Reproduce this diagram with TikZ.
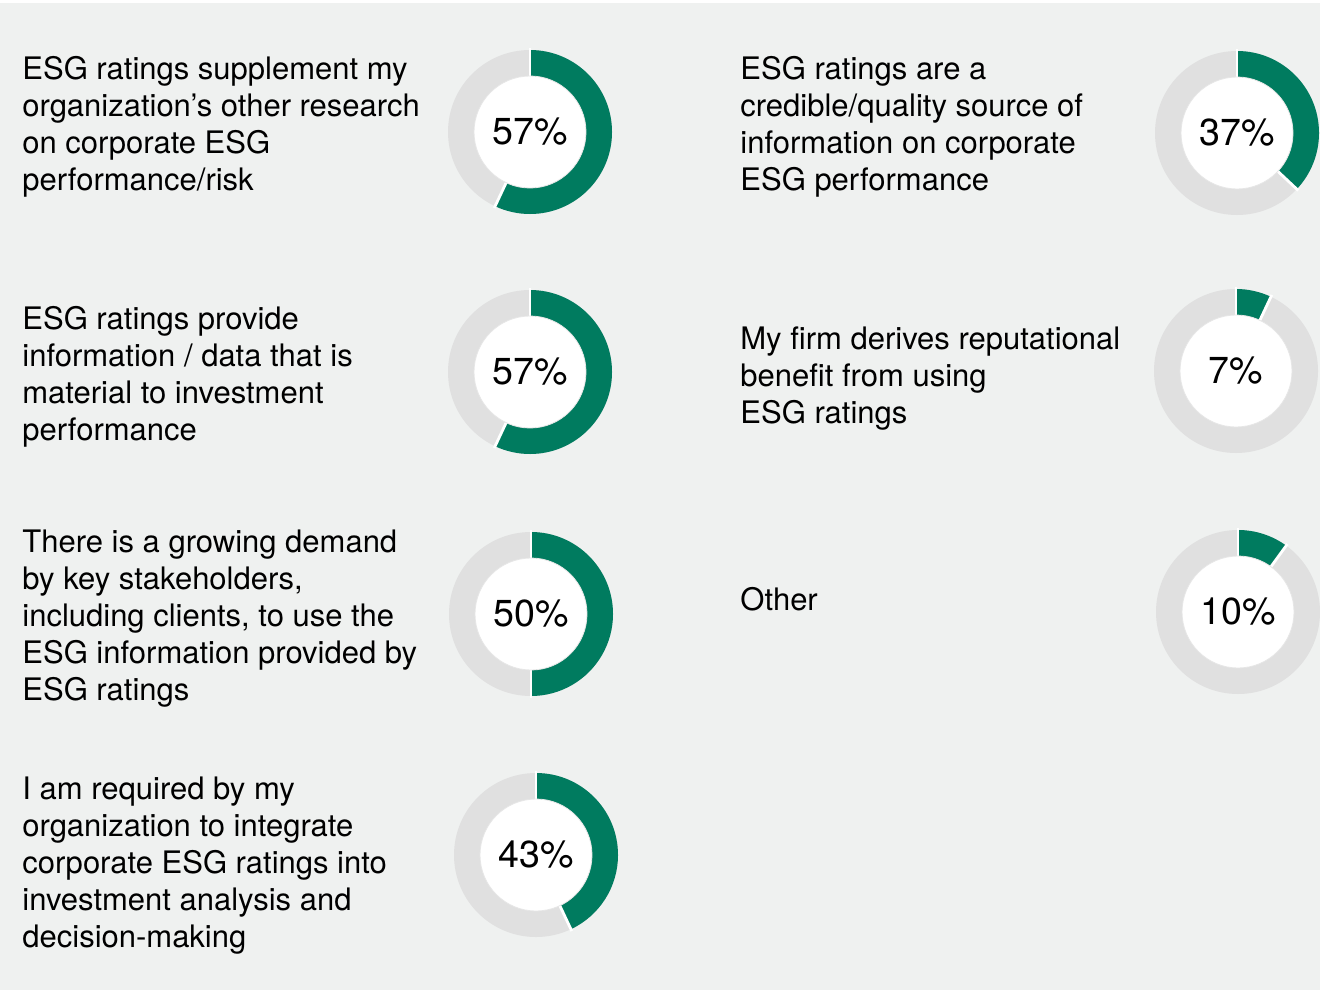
\documentclass[tikz,border=0pt]{standalone}
\usepackage{fontspec}
\setmainfont{TeX Gyre Heros}
\usetikzlibrary{positioning}
\definecolor{esggreen}{HTML}{007B5F}
\definecolor{ringgray}{HTML}{E0E0E0}
\definecolor{panelbg}{HTML}{EFF1F0}
\definecolor{holeline}{HTML}{E6E6E6}

\begin{document}
\begin{tikzpicture}[x=0.5pt,y=-0.5pt]
\tikzstyle{txt}=[anchor=west,align=left,inner sep=0pt,font=\fontsize{15.5}{18.5}\selectfont]
\tikzstyle{pct}=[circle,fill=white,draw=holeline,line width=0.4pt,minimum size=56pt,inner sep=0pt,font=\fontsize{18.8}{22}\selectfont]
\tikzstyle{ring}=[fill=ringgray]
\tikzstyle{slice}=[fill=esggreen]
\tikzstyle{gap}=[draw=white,line width=1.4pt]
\useasboundingbox (0,0) rectangle (1320,990);
\fill[white] (0,0) rectangle (1320,990);
\fill[panelbg] (0,3) rectangle (1320,990);
% donuts: x/y/percent/name
\foreach \cx/\cy/\pc/\nm in {530/132/57/p1, 530/372/57/p2, 531/614/50/p3, 536/855/43/p4, 1237/133/37/p5, 1236/371/7/p6, 1238/612/10/p7}{
  \fill[ring] (\cx,\cy) circle (41pt);
  \fill[slice] (\cx,\cy) -- ++(90:41pt) arc (90:90-3.6*\pc:41pt) -- cycle;
  \draw[gap] (\cx,\cy) -- ++(90:42pt);
  \draw[gap] (\cx,\cy) -- ++(90-3.6*\pc:42pt);
  \node[pct] (\nm) at (\cx,\cy) {\pc\%};
}
% left column
\node[txt] (t1) at (22,126.5) {ESG ratings supplement my\\organization’s other research\\on corporate ESG\\performance/risk};
\node[txt] (t2) at (22,376.5) {ESG ratings provide\\information / data that is\\material to investment\\performance};
\node[txt] (t3) at (22,618.5) {There is a growing demand\\by key stakeholders,\\including clients, to use the\\ESG information provided by\\ESG ratings};
\node[txt] (t4) at (22,866) {I am required by my\\organization to integrate\\corporate ESG ratings into\\investment analysis and\\decision-making};
% right column
\node[txt] (t5) at (740,126.5) {ESG ratings are a\\credible/quality source of\\information on corporate\\ESG performance};
\node[txt] (t6) at (740,379) {My firm derives reputational\\benefit from using\\ESG ratings};
\node[txt] (t7) at (740,599) {Other};
\end{tikzpicture}
\end{document}
